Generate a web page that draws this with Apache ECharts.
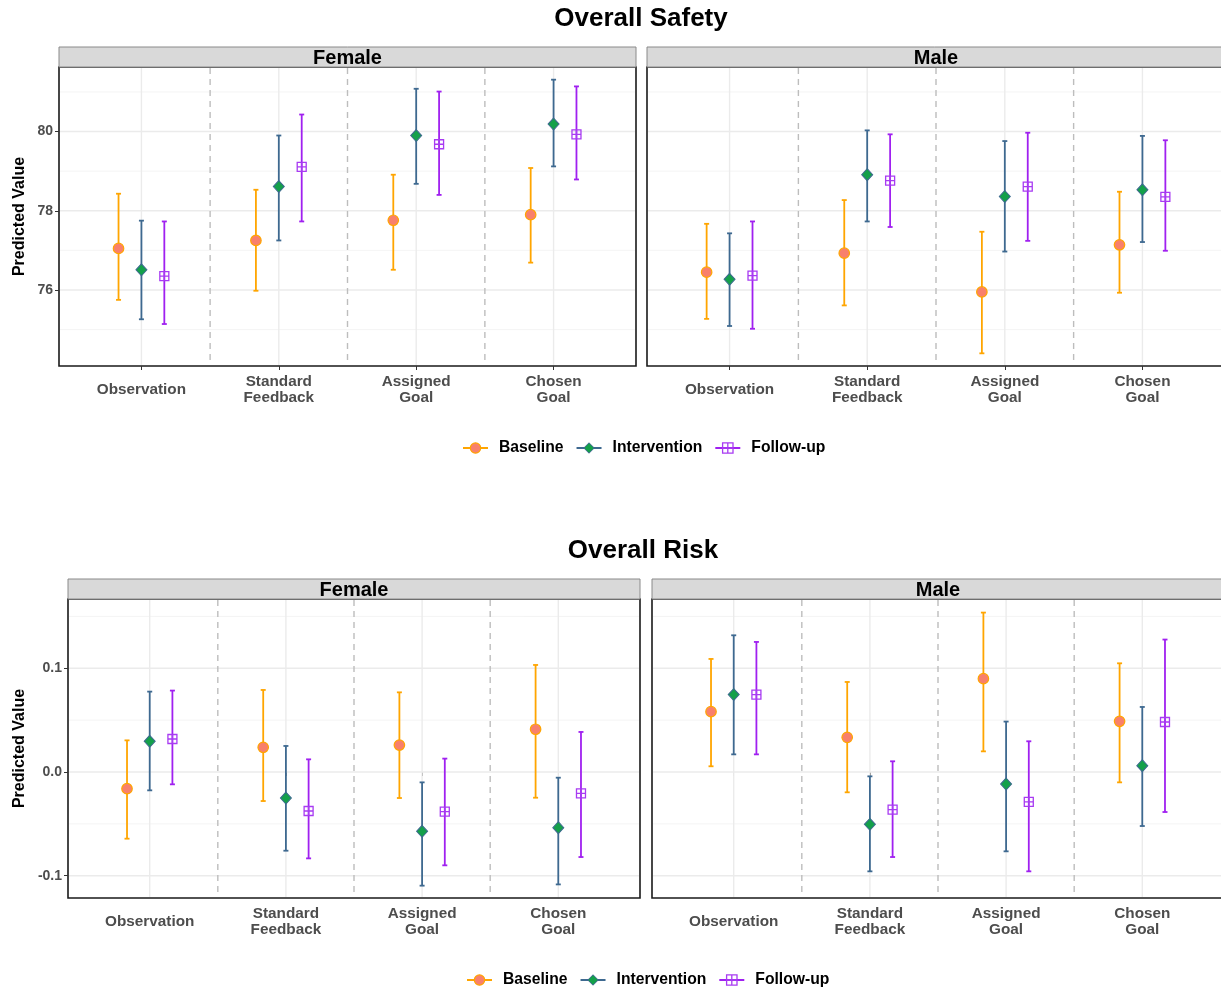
<!DOCTYPE html>
<html>
<head>
<meta charset="utf-8">
<script src="https://cdn.jsdelivr.net/npm/echarts@6/dist/echarts.min.js"></script>
<style>
  html, body { margin: 0; padding: 0; background: #ffffff; }
  #chart { width: 1221px; height: 992px; }
</style>
</head>
<body>
<div id="chart"></div>
<script>
// ---- data -----------------------------------------------------------------
const categories = ['Observation', 'Standard\nFeedback', 'Assigned\nGoal', 'Chosen\nGoal'];
const groups = ['Baseline', 'Intervention', 'Follow-up'];
const sexes = ['Female', 'Male'];

// rows per category: [estimate, lower CI, upper CI]
const safetyFemaleBaseline     = [[77.05, 75.75, 78.43], [77.25, 75.98, 78.53], [77.76, 76.51, 78.91], [77.90, 76.69, 79.08]];
const safetyFemaleIntervention = [[76.51, 75.26, 77.75], [78.61, 77.25, 79.90], [79.90, 78.68, 81.08], [80.19, 79.12, 81.31]];
const safetyFemaleFollowUp     = [[76.35, 75.14, 77.73], [79.11, 77.73, 80.43], [79.68, 78.40, 81.01], [79.93, 78.79, 81.14]];

const safetyMaleBaseline       = [[76.45, 75.27, 77.67], [76.93, 75.61, 78.27], [75.95, 74.40, 77.47], [77.14, 75.93, 78.48]];
const safetyMaleIntervention   = [[76.27, 75.09, 77.43], [78.91, 77.73, 80.03], [78.36, 76.97, 79.76], [78.53, 77.21, 79.89]];
const safetyMaleFollowUp       = [[76.36, 75.02, 77.73], [78.76, 77.59, 79.93], [78.61, 77.24, 79.97], [78.35, 76.99, 79.78]];

const riskFemaleBaseline       = [[-0.0161, -0.0643, 0.0305], [0.0238, -0.0280, 0.0791], [0.0260, -0.0251, 0.0768], [0.0412, -0.0248, 0.1032]];
const riskFemaleIntervention   = [[0.0296, -0.0177, 0.0775], [-0.0251, -0.0759, 0.0251], [-0.0572, -0.1096, -0.0100], [-0.0537, -0.1084, -0.0055]];
const riskFemaleFollowUp       = [[0.0318, -0.0119, 0.0785], [-0.0376, -0.0833, 0.0122], [-0.0383, -0.0900, 0.0129], [-0.0206, -0.0820, 0.0386]];

const riskMaleBaseline         = [[0.0582, 0.0055, 0.1090], [0.0334, -0.0196, 0.0868], [0.0900, 0.0199, 0.1537], [0.0489, -0.0100, 0.1048]];
const riskMaleIntervention     = [[0.0746, 0.0170, 0.1318], [-0.0505, -0.0958, -0.0042], [-0.0116, -0.0765, 0.0486], [0.0061, -0.0521, 0.0627]];
const riskMaleFollowUp         = [[0.0746, 0.0170, 0.1254], [-0.0363, -0.0820, 0.0103], [-0.0289, -0.0958, 0.0296], [0.0482, -0.0386, 0.1277]];

// axis ranges and tick values
const safetyRange = [74.08, 81.63];
const safetyTicks = [76, 78, 80];
const safetyMinorTicks = [75, 77, 79, 81];
const riskRange = [-0.1215, 0.1668];
const riskTicks = [-0.1, 0, 0.1];
const riskMinorTicks = [-0.05, 0.05, 0.15];
const categoryPositions = [1, 2, 3, 4];
const separatorPositions = [1.5, 2.5, 3.5];
const xRange = [0.4, 4.6];

// ---- styling --------------------------------------------------------------
const FONT = 'Liberation Sans, Arial, sans-serif';
const dodge = [-1 / 6, 0, 1 / 6];
const barColors = ['#FFA500', '#3E6990', '#A020F0'];
const markerStyles = [
  { symbol: 'circle', size: 10.5, itemStyle: { color: '#F8806C', borderColor: '#FFA500', borderWidth: 1.2 } },
  { symbol: 'diamond', size: [11, 12], itemStyle: { color: '#14A04A', borderColor: '#3E6990', borderWidth: 1 } },
  { symbol: 'path://M0,0H10V10H0Z M5,0V10 M0,5H10', size: 9, itemStyle: { color: 'none', borderColor: '#A83BF2', borderWidth: 1.3 } }
];

// panel layout: rows are measures, columns are sexes (right-hand panels run past the page edge)
const panels = [
  { title: 'Female', data: [safetyFemaleBaseline, safetyFemaleIntervention, safetyFemaleFollowUp], range: safetyRange, ticks: safetyTicks, minor: safetyMinorTicks, left: 59,  top: 67,  width: 577, height: 299, yLabels: true,  fmt: v => String(v), nameGap: 31 },
  { title: 'Male',   data: [safetyMaleBaseline, safetyMaleIntervention, safetyMaleFollowUp],       range: safetyRange, ticks: safetyTicks, minor: safetyMinorTicks, left: 647, top: 67,  width: 578, height: 299, yLabels: false },
  { title: 'Female', data: [riskFemaleBaseline, riskFemaleIntervention, riskFemaleFollowUp],       range: riskRange,   ticks: riskTicks,   minor: riskMinorTicks,   left: 68,  top: 599, width: 572, height: 299, yLabels: true,  fmt: v => v.toFixed(1), nameGap: 40 },
  { title: 'Male',   data: [riskMaleBaseline, riskMaleIntervention, riskMaleFollowUp],             range: riskRange,   ticks: riskTicks,   minor: riskMinorTicks,   left: 652, top: 599, width: 572, height: 299, yLabels: false }
];
const stripHeight = 20;

// ---- render helpers -------------------------------------------------------
function horizontalLines(color, width) {
  return function (params, api) {
    const cs = params.coordSys;
    const y = api.coord([1, api.value(0)])[1];
    return { type: 'line', shape: { x1: cs.x + 1, y1: y, x2: cs.x + cs.width - 1, y2: y },
             style: { stroke: color, lineWidth: width } };
  };
}
function verticalLines(color, width, dash) {
  return function (params, api) {
    const cs = params.coordSys;
    const x = api.coord([api.value(0), 0])[0];
    return { type: 'line', shape: { x1: x, y1: cs.y + 1, x2: x, y2: cs.y + cs.height - 1 },
             style: { stroke: color, lineWidth: width, lineDash: dash || null } };
  };
}
function errorBars(color) {
  return function (params, api) {
    const x = api.value(0);
    const lo = api.coord([x, api.value(1)]);
    const hi = api.coord([x, api.value(2)]);
    const cap = 2.5;
    const st = { stroke: color, lineWidth: 1.8 };
    return { type: 'group', children: [
      { type: 'line', shape: { x1: lo[0], y1: lo[1], x2: hi[0], y2: hi[1] }, style: st },
      { type: 'line', shape: { x1: lo[0] - cap, y1: lo[1], x2: lo[0] + cap, y2: lo[1] }, style: st },
      { type: 'line', shape: { x1: hi[0] - cap, y1: hi[1], x2: hi[0] + cap, y2: hi[1] }, style: st }
    ] };
  };
}

// ---- option ---------------------------------------------------------------
const grids = [], xAxes = [], yAxes = [], series = [], graphics = [];

panels.forEach((p, i) => {
  grids.push({ left: p.left, top: p.top, width: p.width, height: p.height, show: true,
               outerBoundsMode: 'none', containLabel: false,
               backgroundColor: '#ffffff', borderColor: '#1a1a1a', borderWidth: 1.6 });

  xAxes.push({
    gridIndex: i, type: 'value', min: xRange[0], max: xRange[1],
    axisLine: { show: false },
    axisTick: { show: true, customValues: categoryPositions, length: 4, lineStyle: { color: '#333333', width: 1 } },
    axisLabel: { show: true, customValues: categoryPositions, formatter: v => categories[Math.round(v) - 1],
                 color: '#4d4d4d', fontWeight: 'bold', fontSize: 15.3, fontFamily: FONT,
                 verticalAlign: 'middle', lineHeight: 16, margin: 24 },
    splitLine: { show: false }
  });

  const y = {
    gridIndex: i, type: 'value', min: p.range[0], max: p.range[1],
    axisLine: { show: false },
    splitLine: { show: false },
    axisTick: { show: p.yLabels, customValues: p.ticks, length: 4, lineStyle: { color: '#333333', width: 1 } },
    axisLabel: { show: p.yLabels, customValues: p.ticks, formatter: p.fmt, color: '#4d4d4d',
                 fontWeight: 'bold', fontSize: 14, fontFamily: FONT, margin: 6 }
  };
  if (p.yLabels) {
    Object.assign(y, { name: 'Predicted Value', nameLocation: 'middle', nameGap: p.nameGap,
      nameTextStyle: { color: '#000000', fontWeight: 'bold', fontSize: 16, fontFamily: FONT } });
  }
  yAxes.push(y);

  const common = { xAxisIndex: i, yAxisIndex: i, silent: true, animation: false };
  series.push(Object.assign({ type: 'custom', name: 'minor grid', z: 1, data: p.minor,
                              renderItem: horizontalLines('#f3f3f3', 0.9) }, common));
  series.push(Object.assign({ type: 'custom', name: 'major grid', z: 1, data: p.ticks,
                              renderItem: horizontalLines('#ebebeb', 1.4) }, common));
  series.push(Object.assign({ type: 'custom', name: 'category grid', z: 1, data: categoryPositions,
                              renderItem: verticalLines('#ebebeb', 1.4) }, common));
  series.push(Object.assign({ type: 'custom', name: 'separators', z: 2, data: separatorPositions,
                              renderItem: verticalLines('#bdbdbd', 1.4, [6, 5]) }, common));

  p.data.forEach((rows, g) => {
    series.push(Object.assign({
      type: 'custom', name: groups[g] + ' interval', z: 3,
      data: rows.map((r, c) => [categoryPositions[c] + dodge[g], r[1], r[2]]),
      renderItem: errorBars(barColors[g])
    }, common));
    series.push(Object.assign({
      type: 'line', name: groups[g], z: 4,
      data: rows.map((r, c) => [categoryPositions[c] + dodge[g], r[0]]),
      symbol: markerStyles[g].symbol, symbolSize: markerStyles[g].size, showSymbol: true,
      lineStyle: { opacity: 0, width: 0 },
      itemStyle: markerStyles[g].itemStyle,
      emphasis: { disabled: true }
    }, common));
  });

  // facet strip above the panel
  graphics.push({
    type: 'rect', silent: true, z: 10,
    shape: { x: p.left, y: p.top - stripHeight, width: p.width, height: stripHeight },
    style: { fill: '#d9d9d9', stroke: '#8a8a8a', lineWidth: 1 }
  });
  graphics.push({
    type: 'text', silent: true, z: 11,
    x: p.left + p.width / 2, y: p.top - stripHeight / 2 + 1,
    style: { text: p.title, fill: '#000000', font: 'bold 20px ' + FONT, align: 'center', verticalAlign: 'middle' }
  });
});

// measure titles
graphics.push({ type: 'text', silent: true, x: 641, y: 19,
  style: { text: 'Overall Safety', fill: '#000000', font: 'bold 26px ' + FONT, align: 'center', verticalAlign: 'middle' } });
graphics.push({ type: 'text', silent: true, x: 643, y: 551,
  style: { text: 'Overall Risk', fill: '#000000', font: 'bold 26px ' + FONT, align: 'center', verticalAlign: 'middle' } });

const legendData = groups.map((name, g) => ({
  name: name,
  lineStyle: { color: barColors[g], width: 2, opacity: 1, type: 'solid' },
  itemStyle: { borderWidth: markerStyles[g].itemStyle.borderWidth }
}));
const legendBase = {
  data: legendData, orient: 'horizontal', itemWidth: 25, itemHeight: 13, itemGap: 12,
  selectedMode: false, padding: 0,
  textStyle: { color: '#000000', fontWeight: 'bold', fontSize: 15.7, fontFamily: FONT, padding: [0, 0, 0, 6] }
};

const option = {
  animation: false,
  backgroundColor: '#ffffff',
  grid: grids,
  xAxis: xAxes,
  yAxis: yAxes,
  legend: [
    Object.assign({ left: 462, top: 440 }, legendBase),
    Object.assign({ left: 466, top: 972 }, legendBase)
  ],
  graphic: graphics,
  series: series
};

const chart = echarts.init(document.getElementById('chart'), null, { renderer: 'canvas' });
chart.setOption(option);
</script>
</body>
</html>
